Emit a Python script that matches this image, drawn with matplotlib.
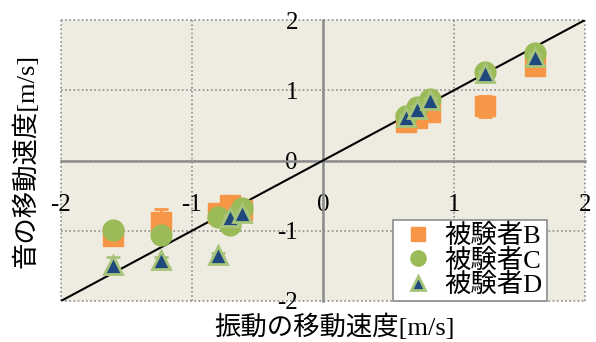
import numpy as np
import matplotlib
matplotlib.use("Agg")
import matplotlib.pyplot as plt
from matplotlib.lines import Line2D

plt.rcParams['font.family'] = ['Liberation Serif', 'Noto Sans CJK JP']

# data
ticks = [-2, -1, 0, 1, 2]
tick_labels = ['-2', '-1', '0', '1', '2']

bx = [-1.60, -1.24, -0.80, -0.71, -0.62, 0.63, 0.72, 0.82, 1.24, 1.62]
by = [-1.08, -0.87, -0.75, -0.63, -0.70, 0.55, 0.60, 0.69, 0.77, 1.34]
be = [0.05, 0.18, 0.05, 0.05, 0.05, 0.05, 0.05, 0.05, 0.15, 0.05]

cx = [-1.60, -1.24, -0.80, -0.71, -0.62, 0.63, 0.72, 0.82, 1.24, 1.62]
cy = [-0.99, -1.06, -0.80, -0.92, -0.68, 0.64, 0.76, 0.88, 1.26, 1.53]
ce = [0.03] * 10

dx = [-1.60, -1.24, -0.80, -0.71, -0.62, 0.63, 0.72, 0.82, 1.24, 1.62]
dy = [-1.49, -1.42, -1.35, -0.80, -0.75, 0.62, 0.74, 0.86, 1.25, 1.48]
de = [0.12, 0.05, 0.03, 0.03, 0.03, 0.03, 0.03, 0.03, 0.03, 0.03]

line_x = [-2, 2]
line_y = [-2, 2]

names = ['被験者B', '被験者C', '被験者D']

orange = '#F79646'
green = '#9BBB59'
navy = '#1F497D'
tri_edge = '#A8C47A'

fig = plt.figure(figsize=(5.96, 3.42), dpi=100)
ax = fig.add_axes([0.1023, 0.1199, 0.8792, 0.8216])
ax.set_facecolor('#EEECE1')

ax.set_xlim(-2, 2)
ax.set_ylim(-2, 2)

# dotted grid incl. border
for t in ticks:
    ax.axhline(t, color='#8C8C8C', ls=(0, (1, 1.5)), lw=1.2, clip_on=False, zorder=1)
    ax.axvline(t, color='#8C8C8C', ls=(0, (1, 1.5)), lw=1.2, clip_on=False, zorder=1)

for s in ['top', 'right']:
    ax.spines[s].set_visible(False)
ax.spines['left'].set_position('zero')
ax.spines['bottom'].set_position('zero')
for s in ['left', 'bottom']:
    ax.spines[s].set_color('#8C8C8C')
    ax.spines[s].set_linewidth(1.8)
    ax.spines[s].set_zorder(2)

ax.set_xticks(ticks)
ax.set_xticklabels(tick_labels)
ax.set_yticks(ticks)
ax.set_yticklabels(tick_labels)
ax.tick_params(axis='x', length=0, pad=24, labelsize=18)
ax.tick_params(axis='y', length=0, pad=18, labelsize=18)

ax.plot(line_x, line_y, color='black', lw=1.5, zorder=3)

ax.errorbar(bx, by, yerr=be, fmt='s', color=orange, ms=14, mec=orange,
            ecolor=orange, elinewidth=2, capsize=5, capthick=2, zorder=4)
ax.errorbar(cx, cy, yerr=ce, fmt='o', color=green, ms=15, mec=green,
            ecolor=green, elinewidth=2, capsize=5, capthick=2, zorder=5)
ax.errorbar(dx, dy, yerr=de, fmt='^', color=navy, ms=13, mec=tri_edge, mew=2,
            ecolor=tri_edge, elinewidth=2, capsize=5, capthick=2, zorder=6)

handles = [
    Line2D([], [], ls='none', marker='s', ms=10, color=orange, mec=orange),
    Line2D([], [], ls='none', marker='o', ms=11, color=green, mec=green),
    Line2D([], [], ls='none', marker='^', ms=10, color=navy, mec=tri_edge, mew=2),
]
leg = ax.legend(handles, names, loc='lower right', bbox_to_anchor=(0.927, 0.0),
                fontsize=19, frameon=True, fancybox=False, framealpha=1,
                edgecolor='#8C8C8C', handletextpad=0.2, borderpad=0.15,
                labelspacing=0.0, handlelength=1.6, borderaxespad=0.0)
leg.get_frame().set_linewidth(1.2)
leg.set_zorder(10)

fig.text(0.562, 0.045, '振動の移動速度[m/s]', ha='center', va='center', fontsize=19)
fig.text(0.042, 0.53, '音の移動速度[m/s]', ha='center', va='center', fontsize=19,
         rotation=90)

fig.savefig('out.png', dpi=100)
